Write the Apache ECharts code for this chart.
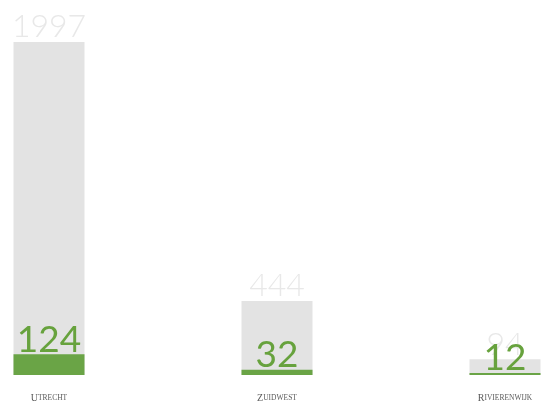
<!DOCTYPE html>
<html>
<head>
<meta charset="utf-8">
<script src="https://cdn.jsdelivr.net/npm/echarts@6/dist/echarts.min.js"></script>
<style>
  html, body { margin: 0; padding: 0; background: #ffffff; }
  #chart { width: 548px; height: 405px; }
</style>
</head>
<body>
<div id="chart"></div>
<script>
// Neighbourhoods and their counts: total (grey) and subset (green)
var categories = ['Utrecht', 'Zuidwest', 'Rivierenwijk'];
var totals = [1997, 444, 94];
var subset = [124, 32, 12];

var chart = echarts.init(document.getElementById('chart'), null, { renderer: 'canvas' });

// Small-caps look: first letter larger, rest uppercase smaller
function smallCaps(name) {
  return '{big|' + name.charAt(0).toUpperCase() + '}{small|' + name.slice(1).toUpperCase() + '}';
}

chart.setOption({
  animation: false,
  backgroundColor: '#ffffff',
  grid: { left: 49, right: 43, top: 41.5, bottom: 30, containLabel: false },
  xAxis: {
    type: 'category',
    data: categories,
    boundaryGap: false,
    axisLine: { show: false },
    axisTick: { show: false },
    splitLine: { show: false },
    axisLabel: {
      margin: 18,
      formatter: smallCaps,
      rich: {
        big: { fontFamily: 'Liberation Serif', fontSize: 10, color: '#5a5a5a' },
        small: { fontFamily: 'Liberation Serif', fontSize: 7.5, color: '#5a5a5a' }
      }
    }
  },
  yAxis: {
    type: 'value',
    min: 0,
    max: 2000,
    show: false,
    splitLine: { show: false }
  },
  series: [
    {
      type: 'bar',
      data: totals,
      barWidth: 71,
      barGap: '-100%',
      itemStyle: { color: '#e3e3e3' },
      label: {
        show: true,
        position: 'top',
        distance: -1,
        fontFamily: 'Lato',
        fontWeight: 300,
        fontSize: 32,
        color: '#e8e8e8'
      },
      z: 1
    },
    {
      type: 'bar',
      data: subset,
      barWidth: 71,
      barGap: '-100%',
      itemStyle: { color: '#6aa446' },
      label: {
        show: true,
        position: 'top',
        distance: -4,
        fontFamily: 'Lato',
        fontWeight: 400,
        fontSize: 37,
        color: '#67a23d'
      },
      z: 2
    }
  ]
});
</script>
</body>
</html>
